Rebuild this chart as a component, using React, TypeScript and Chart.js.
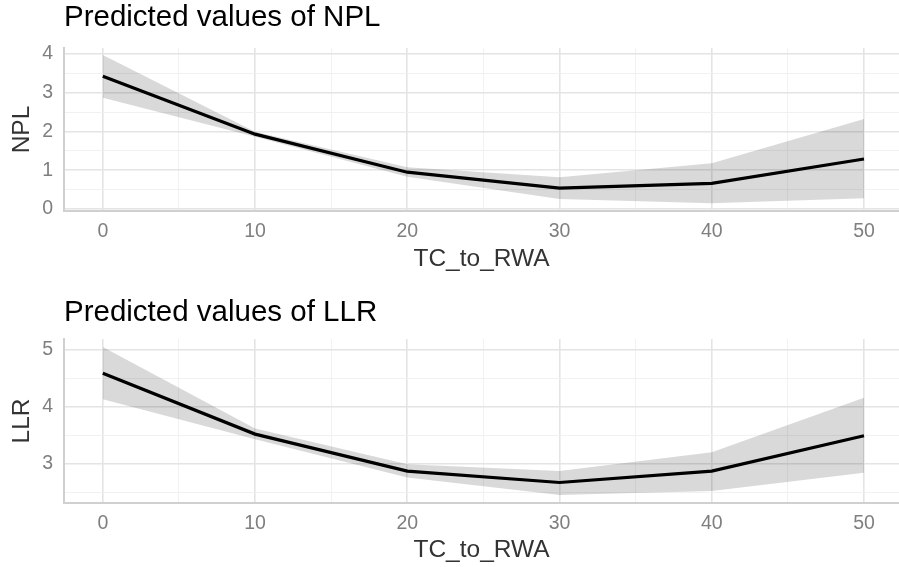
import React, { useEffect, useRef } from "react";
import { Chart, registerables } from "chart.js";

Chart.register(...registerables);

// ---- data ----
const xValues = [0, 10, 20, 30, 40, 50];
const xGridTicks = [0, 5, 10, 15, 20, 25, 30, 35, 40, 45, 50];
const xTickLabels = [0, 10, 20, 30, 40, 50];

const nplMean = [3.42, 1.93, 0.95, 0.54, 0.66, 1.29];
const nplLow = [2.87, 1.86, 0.83, 0.26, 0.15, 0.28];
const nplHigh = [3.97, 1.99, 1.08, 0.82, 1.18, 2.32];
const nplGridTicks = [0, 0.5, 1, 1.5, 2, 2.5, 3, 3.5, 4];
const nplTickLabels = [0, 1, 2, 3, 4];

const llrMean = [4.59, 3.52, 2.87, 2.67, 2.87, 3.49];
const llrLow = [4.13, 3.43, 2.76, 2.45, 2.52, 2.84];
const llrHigh = [5.05, 3.62, 2.99, 2.87, 3.2, 4.16];
const llrGridTicks = [2.5, 3, 3.5, 4, 4.5, 5];
const llrTickLabels = [3, 4, 5];

const FONT = "'Liberation Sans', Arial, Helvetica, sans-serif";
const TITLE_SIZE = 29.5;

type PanelProps = {
  title: string;
  yTitle: string;
  mean: number[];
  low: number[];
  high: number[];
  yMin: number;
  yMax: number;
  yGrid: number[];
  yLabels: number[];
  top: number;
  height: number;
  plotTop: number;
  plotBottom: number;
  titlePadTop: number;
  xTitlePad: number;
};

function Panel(p: PanelProps) {
  const ref = useRef<HTMLCanvasElement | null>(null);
  useEffect(() => {
    if (!ref.current) return;
    const pts = (ys: number[]) => xValues.map((x, i) => ({ x, y: ys[i] }));
    const major = "#e4e4e4";
    const minor = "#efefef";
    const titleLH = TITLE_SIZE * 1.2;
    const chart = new Chart(ref.current, {
      type: "line",
      data: {
        datasets: [
          {
            data: pts(p.low),
            borderWidth: 0,
            pointRadius: 0,
            fill: false,
            borderColor: "rgba(0,0,0,0)",
          },
          {
            data: pts(p.high),
            borderWidth: 0,
            pointRadius: 0,
            fill: "-1",
            borderColor: "rgba(0,0,0,0)",
            backgroundColor: "rgba(0,0,0,0.15)",
          },
          {
            data: pts(p.mean),
            borderWidth: 3.2,
            borderColor: "#000000",
            pointRadius: 0,
            fill: false,
            tension: 0,
          },
        ],
      },
      options: {
        animation: false,
        responsive: false,
        layout: { padding: 0 },
        plugins: {
          legend: { display: false },
          tooltip: { enabled: false },
          title: {
            display: true,
            text: p.title,
            align: "start",
            fullSize: false,
            color: "#000000",
            font: { family: FONT, size: TITLE_SIZE, weight: "normal", lineHeight: 1.2 },
            padding: { top: p.titlePadTop, bottom: p.plotTop - titleLH - p.titlePadTop },
          },
        },
        scales: {
          x: {
            type: "linear",
            min: -2.55,
            max: 52.3,
            afterBuildTicks: (s: any) => {
              s.ticks = xGridTicks.map((v) => ({ value: v }));
            },
            afterFit: (s: any) => {
              s.height = p.height - p.plotBottom;
            },
            ticks: {
              autoSkip: false,
              maxRotation: 0,
              padding: 9,
              color: "#7f7f7f",
              font: { family: FONT, size: 19.5 },
              callback: (v: any) => (xTickLabels.includes(Number(v)) ? String(v) : ""),
            },
            grid: {
              drawTicks: false,
              color: (c: any) => (Number(c.tick?.value) % 10 === 0 ? major : minor),
              lineWidth: (c: any) => (Number(c.tick?.value) % 10 === 0 ? 1.6 : 0.9),
            },
            border: { display: true, color: "#d0d0d0", width: 2 },
            title: {
              display: true,
              text: "TC_to_RWA",
              color: "#333333",
              font: { family: FONT, size: 24.5, lineHeight: 1.2 },
              padding: { top: 0, bottom: p.xTitlePad },
            },
          },
          y: {
            type: "linear",
            min: p.yMin,
            max: p.yMax,
            afterBuildTicks: (s: any) => {
              s.ticks = p.yGrid.map((v) => ({ value: v }));
            },
            afterFit: (s: any) => {
              s.width = 64;
            },
            ticks: {
              autoSkip: false,
              padding: 11,
              color: "#7f7f7f",
              font: { family: FONT, size: 19.5 },
              callback: (v: any) => (p.yLabels.includes(Number(v)) ? String(v) : ""),
            },
            grid: {
              drawTicks: false,
              color: (c: any) => (p.yLabels.includes(Number(c.tick?.value)) ? major : minor),
              lineWidth: (c: any) => (p.yLabels.includes(Number(c.tick?.value)) ? 1.6 : 0.9),
            },
            border: { display: true, color: "#d0d0d0", width: 2 },
            title: {
              display: true,
              text: p.yTitle,
              color: "#333333",
              font: { family: FONT, size: 24.5, lineHeight: 1.2 },
              padding: { top: 8, bottom: 0 },
            },
          },
        },
      },
    } as any);
    return () => chart.destroy();
  }, []);
  return (
    <canvas
      ref={ref}
      width={899}
      height={p.height}
      style={{ position: "absolute", left: 0, top: p.top, display: "block" }}
    />
  );
}

export default function App() {
  return (
    <div
      style={{
        position: "absolute",
        left: 0,
        top: 0,
        width: 899,
        height: 567,
        background: "#ffffff",
        overflow: "hidden",
      }}
    >
      <Panel
        title="Predicted values of NPL"
        yTitle="NPL"
        mean={nplMean}
        low={nplLow}
        high={nplHigh}
        yMin={-0.05}
        yMax={4.15}
        yGrid={nplGridTicks}
        yLabels={nplTickLabels}
        top={0}
        height={283}
        plotTop={48}
        plotBottom={211}
        titlePadTop={0.5}
        xTitlePad={9}
      />
      <Panel
        title="Predicted values of LLR"
        yTitle="LLR"
        mean={llrMean}
        low={llrLow}
        high={llrHigh}
        yMin={2.31}
        yMax={5.19}
        yGrid={llrGridTicks}
        yLabels={llrTickLabels}
        top={291}
        height={276}
        plotTop={48}
        plotBottom={212}
        titlePadTop={4}
        xTitlePad={2}
      />
    </div>
  );
}
